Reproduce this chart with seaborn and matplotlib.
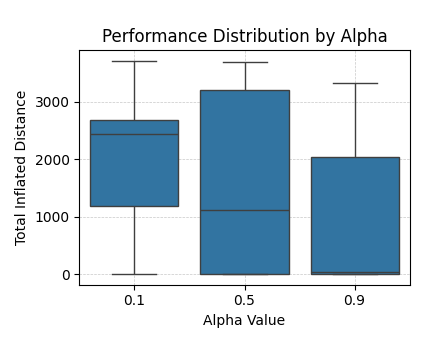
import matplotlib
matplotlib.use("Agg")
import matplotlib.pyplot as plt
import seaborn as sns
import pandas as pd

alphas = ["0.1", "0.5", "0.9"]
# five-number summaries (min, Q1, median, Q3, max)
vals_01 = [0, 1184, 2445, 2688, 3711]
vals_05 = [0, 0, 1120, 3208, 3693]
vals_09 = [0, 0, 35, 2046, 3329]

df = pd.DataFrame({
    "Alpha Value": [alphas[0]] * len(vals_01) + [alphas[1]] * len(vals_05) + [alphas[2]] * len(vals_09),
    "Total Inflated Distance": vals_01 + vals_05 + vals_09,
})

fig, ax = plt.subplots(figsize=(4.26, 3.44), dpi=100)
fig.subplots_adjust(left=0.1866, right=0.9613, top=0.8538, bottom=0.1724)
sns.boxplot(data=df, x="Alpha Value", y="Total Inflated Distance", order=alphas, ax=ax)
ax.set_title("Performance Distribution by Alpha")
ax.grid(True, linestyle="--", linewidth=0.5, alpha=0.7)
ax.set_axisbelow(True)
fig.savefig("out.png", dpi=100)
